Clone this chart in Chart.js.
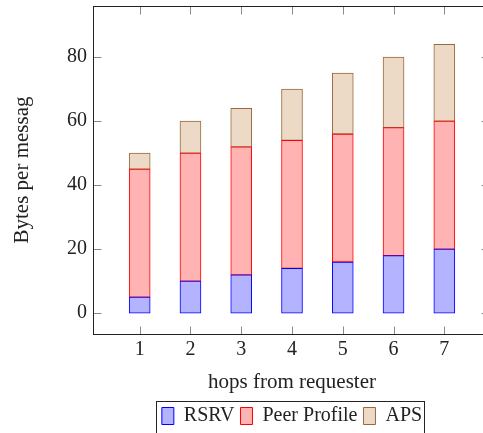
<!DOCTYPE html>
<html>
<head>
<meta charset="utf-8">
<script src="https://cdn.jsdelivr.net/npm/chart.js@4.4.1/dist/chart.umd.min.js"></script>
<style>
  html, body { margin: 0; padding: 0; background: #fff; overflow: hidden; }
  #wrap { width: 483px; height: 433px; overflow: hidden; }
</style>
</head>
<body>
<div id="wrap"><canvas id="chart" width="500" height="439"></canvas></div>
<script>
const hops = [1, 2, 3, 4, 5, 6, 7];
const rsrv = [5, 10, 12, 14, 16, 18, 20];
const peerProfile = [40, 40, 40, 40, 40, 40, 40];
const aps = [5, 10, 12, 16, 19, 22, 24];
const yTicks = [0, 20, 40, 60, 80];

const serif = "'Liberation Serif', 'Times New Roman', serif";
const textSize = 20;

function points(values) {
  return hops.map((h, i) => ({ x: h, y: values[i] }));
}

// pgfplots style box: frame + inward ticks on all four sides, framed legend
const frame = {
  id: 'frame',
  afterDraw(chart) {
    const { ctx, chartArea: a, scales } = chart;
    const L = Math.round(a.left) - 0.5, R = Math.round(a.right) - 0.5;
    const T = Math.round(a.top) + 0.5, B = Math.round(a.bottom) + 0.5;
    ctx.save();
    ctx.lineWidth = 1;
    ctx.strokeStyle = '#8a8a8a';
    ctx.beginPath();
    hops.forEach(v => {
      const x = Math.round(scales.x.getPixelForValue(v)) + 0.5;
      ctx.moveTo(x, B); ctx.lineTo(x, B - 8);
      ctx.moveTo(x, T); ctx.lineTo(x, T + 8);
    });
    yTicks.forEach(v => {
      const y = Math.round(scales.y.getPixelForValue(v)) + 0.5;
      ctx.moveTo(L, y); ctx.lineTo(L + 8, y);
      ctx.moveTo(R, y); ctx.lineTo(R - 8, y);
    });
    ctx.stroke();
    ctx.strokeStyle = '#222';
    ctx.strokeRect(L, T, R - L, B - T);

    const boxes = chart.legend.legendHitBoxes;
    if (boxes && boxes.length) {
      const first = boxes[0], last = boxes[boxes.length - 1];
      const lx = Math.round(first.left - 6) + 0.5;
      const rx = Math.round(last.left + last.width + 2) + 0.5;
      const ty = Math.round(first.top - 5) + 0.5;
      ctx.strokeRect(lx, ty, rx - lx, 60);
    }
    ctx.restore();
  }
};

const barStyle = { borderWidth: 1, borderSkipped: false, barThickness: 21 };

new Chart(document.getElementById('chart').getContext('2d'), {
  type: 'bar',
  data: {
    datasets: [
      Object.assign({
        label: 'RSRV',
        data: points(rsrv),
        backgroundColor: 'rgb(179,179,255)',
        borderColor: 'rgb(0,0,255)'
      }, barStyle),
      Object.assign({
        label: 'Peer Profile',
        data: points(peerProfile),
        backgroundColor: 'rgb(255,179,179)',
        borderColor: 'rgb(255,0,0)'
      }, barStyle),
      Object.assign({
        label: 'APS',
        data: points(aps),
        backgroundColor: 'rgb(236,217,198)',
        borderColor: 'rgb(150,105,65)'
      }, barStyle)
    ]
  },
  options: {
    responsive: false,
    animation: false,
    layout: { padding: { top: 6, right: 10, left: 0, bottom: 3 } },
    plugins: {
      legend: {
        position: 'bottom',
        fullSize: false,
        labels: {
          boxWidth: 12,
          boxHeight: 17,
          padding: 6,
          color: '#222',
          font: { family: serif, size: textSize }
        }
      },
      tooltip: { enabled: false }
    },
    scales: {
      x: {
        type: 'linear',
        stacked: true,
        offset: false,
        min: 0.1,
        max: 7.9,
        grid: { display: false, drawTicks: false },
        border: { display: false },
        afterBuildTicks: s => { s.ticks = hops.map(v => ({ value: v })); },
        afterFit: s => { s.height = 66; s.paddingLeft = 0; s.paddingRight = 0; },
        ticks: {
          padding: 4,
          color: '#222',
          font: { family: serif, size: textSize }
        },
        title: {
          display: true,
          text: 'hops from requester',
          color: '#222',
          font: { family: serif, size: 21 },
          padding: { top: 0, bottom: 5 }
        }
      },
      y: {
        stacked: true,
        min: -6.5,
        max: 96,
        grid: { display: false, drawTicks: false },
        border: { display: false },
        afterBuildTicks: s => { s.ticks = yTicks.map(v => ({ value: v })); },
        afterFit: s => { s.width = 94; s.paddingTop = 0; s.paddingBottom = 0; },
        ticks: {
          padding: 7,
          color: '#222',
          font: { family: serif, size: textSize }
        },
        title: {
          display: true,
          text: 'Bytes per messag',
          color: '#222',
          font: { family: serif, size: 21 },
          padding: { top: 10, bottom: 0 }
        }
      }
    }
  },
  plugins: [frame]
});
</script>
</body>
</html>
